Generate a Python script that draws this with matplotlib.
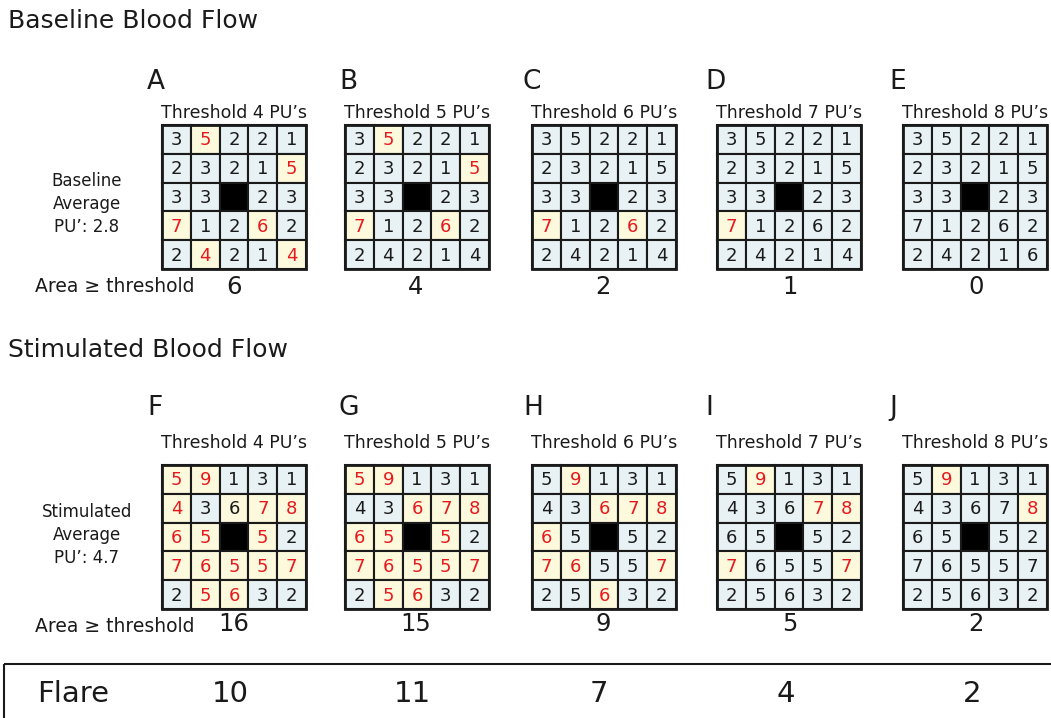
import matplotlib.pyplot as plt
from matplotlib.patches import Rectangle

plt.rcParams['font.family'] = ['DejaVu Sans']

# --- data ---
thresholds = [4, 5, 6, 7, 8]
base_letters = ['A', 'B', 'C', 'D', 'E']
stim_letters = ['F', 'G', 'H', 'I', 'J']

base_grid = [
    [3, 5, 2, 2, 1],
    [2, 3, 2, 1, 5],
    [3, 3, None, 2, 3],
    [7, 1, 2, 6, 2],
    [2, 4, 2, 1, 4],
]
# panel E shows a 6 in the bottom-right cell
base_grid_e = [row[:] for row in base_grid]
base_grid_e[4][4] = 6

stim_grid = [
    [5, 9, 1, 3, 1],
    [4, 3, 6, 7, 8],
    [6, 5, None, 5, 2],
    [7, 6, 5, 5, 7],
    [2, 5, 6, 3, 2],
]

base_area = [6, 4, 2, 1, 0]
stim_area = [16, 15, 9, 5, 2]
flare = [10, 11, 7, 4, 2]

base_avg = 2.8
stim_avg = 4.7

# cells highlighted but printed in black in the original (panel, row, col)
black_text_cells = [('F', 1, 2)]

# --- layout (pixels) ---
W, H = 1051, 718
grid_left = [162, 345, 532, 717, 903]
letter_x = [147, 339, 523, 705, 889]
grid_w = 144
base_top, stim_top = 125, 465
area_x = [234, 416, 603, 790, 976]

BLUE = '#e8f2f4'
YELLOW = '#fcf9dd'
RED = '#e8191c'
INK = '#1a1a1a'

fig = plt.figure(figsize=(W / 100, H / 100), dpi=100)
ax = fig.add_axes([0, 0, 1, 1])
ax.set_xlim(0, W)
ax.set_ylim(H, 0)
ax.axis('off')


def draw_grid(letter, left, top, grid, thr):
    c = grid_w / 5
    for r in range(5):
        for k in range(5):
            v = grid[r][k]
            x, y = left + k * c, top + r * c
            if v is None:
                ax.add_patch(Rectangle((x, y), c, c, facecolor='black',
                                       edgecolor=INK, lw=1.5))
                continue
            hi = v >= thr
            ax.add_patch(Rectangle((x, y), c, c, facecolor=YELLOW if hi else BLUE,
                                   edgecolor=INK, lw=1.5))
            col = RED if hi and (letter, r, k) not in black_text_cells else INK
            ax.text(x + c / 2, y + c / 2 + 1, str(v), ha='center', va='center',
                    fontsize=13, color=col)
    ax.add_patch(Rectangle((left, top), grid_w, grid_w, fill=False,
                           edgecolor=INK, lw=2))


# --- baseline row ---
ax.text(8, 21, 'Baseline Blood Flow', fontsize=18, va='center', color=INK)
for i, thr in enumerate(thresholds):
    g = base_grid_e if i == 4 else base_grid
    ax.text(letter_x[i], 82, base_letters[i], fontsize=19, va='center', color=INK)
    ax.text(grid_left[i] + grid_w / 2, 113, f'Threshold {thr} PU\u2019s', fontsize=12.5,
            ha='center', va='center', color=INK)
    draw_grid(base_letters[i], grid_left[i], base_top, g, thr)
    ax.text(area_x[i], 287, str(base_area[i]), fontsize=17.5, ha='center', va='center',
            color=INK)

for txt, yy in zip(['Baseline', 'Average', f'PU\u2019: {base_avg}'], [181, 204, 227]):
    ax.text(87, yy, txt, fontsize=12, ha='center', va='center', color=INK)
ax.text(35, 286, 'Area \u2265 threshold', fontsize=13.5, va='center', color=INK)

# --- stimulated row ---
ax.text(8, 350, 'Stimulated Blood Flow', fontsize=18, va='center', color=INK)
for i, thr in enumerate(thresholds):
    ax.text(letter_x[i], 408, stim_letters[i], fontsize=19, va='center', color=INK)
    ax.text(grid_left[i] + grid_w / 2, 443, f'Threshold {thr} PU\u2019s', fontsize=12.5,
            ha='center', va='center', color=INK)
    draw_grid(stim_letters[i], grid_left[i], stim_top, stim_grid, thr)
    ax.text(area_x[i], 624, str(stim_area[i]), fontsize=17.5, ha='center', va='center',
            color=INK)

for txt, yy in zip(['Stimulated', 'Average', f'PU\u2019: {stim_avg}'], [512, 535, 558]):
    ax.text(87, yy, txt, fontsize=12, ha='center', va='center', color=INK)
ax.text(35, 626, 'Area \u2265 threshold', fontsize=13.5, va='center', color=INK)

# --- flare box ---
ax.add_patch(Rectangle((4, 664), W + 20, 80, fill=False, edgecolor=INK, lw=1.5))
ax.text(37, 694, 'Flare', fontsize=21, va='center', color=INK)
for i, f in enumerate(flare):
    ax.text(area_x[i] - 4, 694, str(f), fontsize=21, ha='center', va='center', color=INK)

fig.savefig('out.png', dpi=100)
